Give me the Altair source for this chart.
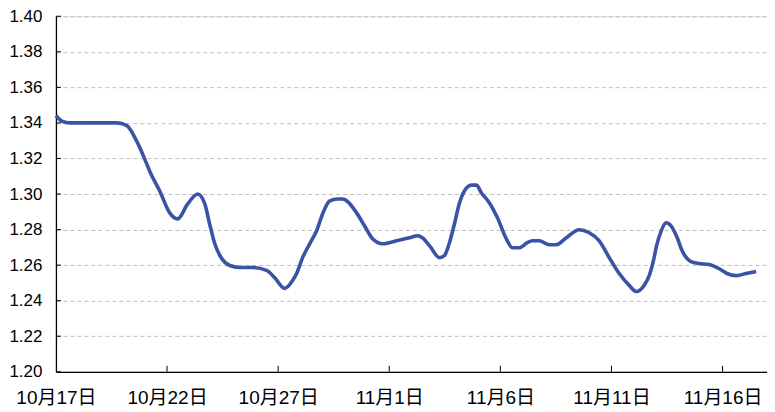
import altair as alt
import pandas as pd

# day offset from 10月17日 and value
days = [0.0, 0.27, 0.63, 1.53, 2.74, 3.19, 3.64, 4.09, 4.22, 4.67, 5.12, 5.48, 5.93, 6.38, 6.70,
        6.92, 7.15, 7.46, 7.82, 8.27, 8.85, 9.48, 9.84, 10.29, 10.65, 10.83, 11.10, 11.42, 11.73,
        12.00, 12.31, 12.67, 12.90, 13.53, 13.89, 14.25, 14.70, 15.33, 15.91, 16.27, 16.49, 16.81,
        17.26, 17.48, 17.71, 17.93, 18.16, 18.38, 18.70, 18.92, 19.15, 19.51, 19.87, 20.27, 20.54,
        20.85, 21.21, 21.44, 21.75, 22.20, 22.52, 22.97, 23.55, 24.00, 24.45, 24.90, 25.35, 25.80,
        26.11, 26.47, 26.70, 26.92, 27.01, 27.24, 27.46, 27.69, 27.96, 28.18, 28.58, 28.94, 29.39,
        29.84, 30.20, 30.61, 31.06, 31.51]
values = [1.344, 1.341, 1.340, 1.340, 1.340, 1.3385, 1.3296, 1.3168, 1.3128, 1.3017, 1.2894, 1.286,
          1.2944, 1.300, 1.2944, 1.283, 1.272, 1.2637, 1.2598, 1.2587, 1.2587, 1.257, 1.253, 1.2469,
          1.2513, 1.2553, 1.2642, 1.272, 1.2793, 1.2888, 1.296, 1.2972, 1.2972, 1.2894, 1.282, 1.2748,
          1.272, 1.2737, 1.2754, 1.2765, 1.2754, 1.271, 1.2642, 1.2653, 1.2726, 1.283, 1.295, 1.3017,
          1.305, 1.305, 1.3006, 1.295, 1.2866, 1.2748, 1.2698, 1.2698, 1.2726, 1.2737, 1.2737, 1.2715,
          1.2715, 1.2754, 1.2799, 1.2782, 1.2737, 1.2642, 1.2553, 1.2486, 1.2452, 1.2486, 1.2541,
          1.2642, 1.2698, 1.2793, 1.2838, 1.282, 1.2754, 1.2681, 1.262, 1.2609, 1.2603, 1.258, 1.2553,
          1.2541, 1.2553, 1.2564]

tick_days = [0, 5, 10, 15, 20, 25, 30]
tick_labels = ["10月17日", "10月22日", "10月27日", "11月1日", "11月6日", "11月11日", "11月16日"]
y_ticks = [1.20, 1.22, 1.24, 1.26, 1.28, 1.30, 1.32, 1.34, 1.36, 1.38, 1.40]

df = pd.DataFrame({"d": days, "v": values})
xt = pd.DataFrame({"d": tick_days[1:]})
yt = pd.DataFrame({"v": y_ticks})

FONT = "Liberation Sans, Arial, Noto Sans CJK SC"
label_expr = "[" + ",".join("'%s'" % s for s in tick_labels) + "][round(datum.value/5)]"

xscale = alt.Scale(domain=[0, 32], nice=False, zero=False)
yscale = alt.Scale(domain=[1.20, 1.40], nice=False, zero=False)

xaxis = alt.Axis(values=tick_days, labelExpr=label_expr, grid=False, ticks=False,
                 domainColor="black", domainWidth=1.3, labelColor="black",
                 labelFont=FONT, labelFontSize=19, labelPadding=17,
                 labelFlush=False, labelOverlap=False, labelBound=False)
yaxis = alt.Axis(values=y_ticks, format=".2f", grid=True, gridColor="#c0c0c0",
                 gridDash=[4, 3], gridWidth=1, ticks=False, domainColor="black",
                 domainWidth=1.3, labelColor="black", labelFont=FONT,
                 labelFontSize=17, labelPadding=14,
                 labelFlush=False, labelOverlap=False, labelBound=False)

line = alt.Chart(df).mark_line(color="#3A53A4", strokeWidth=3.6, interpolate="monotone").encode(
    x=alt.X("d:Q", scale=xscale, title=None, axis=xaxis),
    y=alt.Y("v:Q", scale=yscale, title=None, axis=yaxis),
)

xticks = alt.Chart(xt).mark_rule(color="black", strokeWidth=1).encode(
    x=alt.X("d:Q", scale=xscale, title=None, axis=xaxis), y=alt.value(356), y2=alt.value(350))
yticks = alt.Chart(yt).mark_rule(color="black", strokeWidth=1).encode(
    y=alt.Y("v:Q", scale=yscale, title=None, axis=yaxis), x=alt.value(0), x2=alt.value(5))

chart = alt.layer(line, xticks, yticks).properties(
    width=712, height=356,
    autosize=alt.AutoSizeParams(type="none"),
    padding={"left": 48, "top": 8, "right": 0, "bottom": 38},
).configure_view(stroke=None).configure(background="white")

chart.save("out.html", embed_options={"renderer": "svg", "actions": False})
